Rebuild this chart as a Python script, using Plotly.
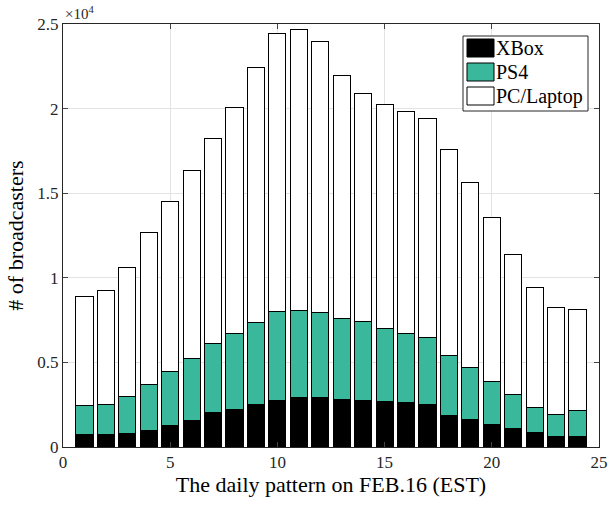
import plotly.graph_objects as go

hours = list(range(1, 25))
# cumulative tops
total = [8900, 9260, 10620, 12650, 14500, 16350, 18220, 20070, 22400, 24430, 24660, 23940,
         21950, 20900, 20250, 19840, 19440, 17610, 15640, 13590, 11390, 9400, 8250, 8100]
ps4_top = [2440, 2540, 2990, 3720, 4470, 5220, 6110, 6720, 7370, 8020, 8080, 7960,
           7590, 7430, 7030, 6720, 6460, 5420, 4710, 3880, 3090, 2310, 1930, 2150]
xbox = [710, 710, 810, 990, 1280, 1560, 2010, 2230, 2500, 2720, 2900, 2920,
        2800, 2740, 2680, 2620, 2540, 1870, 1600, 1340, 1100, 870, 650, 650]
ps4 = [p - x for p, x in zip(ps4_top, xbox)]
pc = [t - p for t, p in zip(total, ps4_top)]

names = ["XBox", "PS4", "PC/Laptop"]
colors = ["#000000", "#3ab89b", "#ffffff"]
series = [xbox, ps4, pc]

y_ticks = [0, 5000, 10000, 15000, 20000, 25000]
y_ticktext = ["0", "0.5", "1", "1.5", "2", "2.5"]
x_ticks = [0, 5, 10, 15, 20, 25]

FONT = "Liberation Serif"

fig = go.Figure()
for name, col, vals in zip(names, colors, series):
    fig.add_trace(go.Bar(x=hours, y=vals, name=name, width=0.8,
                         marker=dict(color=col, line=dict(color="#000000", width=1)),
                         showlegend=False))

fig.update_layout(
    barmode="stack",
    width=608, height=506,
    margin=dict(l=63, r=9, t=24, b=59, autoexpand=False),
    paper_bgcolor="white", plot_bgcolor="white",
    font=dict(family=FONT, size=17, color="#262626"),
)
fig.update_xaxes(range=[0, 25], tickvals=x_ticks, ticks="inside", ticklen=5, automargin=False,
                 showline=True, linecolor="#262626", linewidth=1, mirror="allticks",
                 showgrid=True, gridcolor="#e3e3e3", zeroline=False,
                 title=dict(text="The daily pattern on FEB.16 (EST)", font=dict(family=FONT, size=22, color="#000"), standoff=5),
                 tickfont=dict(family=FONT, size=17, color="#262626"))
fig.update_yaxes(range=[0, 25000], tickvals=y_ticks, ticktext=y_ticktext, ticks="inside", ticklen=5, automargin=False,
                 showline=True, linecolor="#262626", linewidth=1, mirror="allticks",
                 showgrid=True, gridcolor="#e3e3e3", zeroline=False,
                 title=dict(text="# of broadcasters", font=dict(family=FONT, size=22, color="#000"), standoff=7),
                 tickfont=dict(family=FONT, size=17, color="#262626"))

# exponent label
fig.add_annotation(xref="paper", yref="paper", x=0, y=1, xanchor="left", yanchor="bottom",
                   text="×10<sup>4</sup>", showarrow=False, font=dict(family=FONT, size=15, color="#262626"))

# custom legend (paper coordinates)
pw, ph = 608 - 63 - 9, 506 - 24 - 59
def px_x(p):
    return (p - 63) / pw
def px_y(p):
    return (506 - 59 - p) / ph

fig.add_shape(type="rect", xref="paper", yref="paper",
              x0=px_x(463), x1=px_x(588), y0=px_y(111), y1=px_y(36),
              line=dict(color="#262626", width=1), fillcolor="white", layer="above")
row_y = [48, 72, 96]
for name, col, yy in zip(names, colors, row_y):
    fig.add_shape(type="rect", xref="paper", yref="paper",
                  x0=px_x(467), x1=px_x(494), y0=px_y(yy + 9), y1=px_y(yy - 9),
                  line=dict(color="#000", width=1), fillcolor=col, layer="above")
    fig.add_annotation(xref="paper", yref="paper", x=px_x(494), y=px_y(yy),
                       xanchor="left", yanchor="middle", text=name, showarrow=False,
                       font=dict(family=FONT, size=20, color="#000"))

fig.write_html("out.html")
